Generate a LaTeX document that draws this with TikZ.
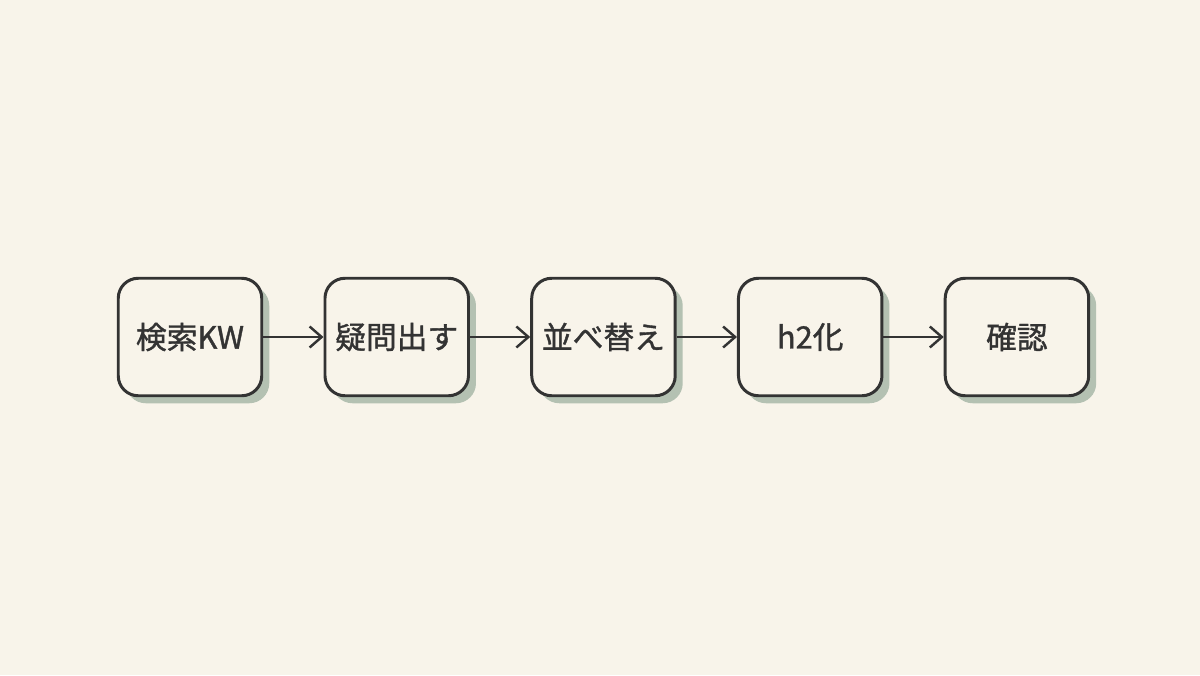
\documentclass[tikz,border=0pt]{standalone}
\usepackage{fontspec}
\setmainfont{Noto Sans CJK JP}[FakeBold=1.2]
\usepackage{tikz}
\usetikzlibrary{positioning, shadows, arrows.meta}

\definecolor{paper}{HTML}{F8F4EA}
\definecolor{ink}{HTML}{333333}
\definecolor{sage}{HTML}{B4C1B2}

\begin{document}
\begin{tikzpicture}[node distance=1.205cm]
        \tikzstyle{stepbox} = [rectangle, rounded corners=0.4cm, minimum width=2.87cm, minimum height=2.35cm, text centered, draw=ink, line width=1.7pt, fill=paper, text=ink, font=\fontsize{17.5}{21}\selectfont, drop shadow={shadow xshift=0.15cm, shadow yshift=-0.15cm, fill=sage, opacity=1}]
        \tikzstyle{arrow} = [draw=ink, line width=1.4pt, -{Straight Barb[length=0.24cm, width=0.42cm]}]

        % Background
        \fill[paper] (0,0) rectangle (24,13.5);
        \useasboundingbox (0,0) rectangle (24,13.5);

        % Nodes
        \node (kw) [stepbox] at (3.8,6.76) {検索KW};
        \node (question) [stepbox, right=of kw] {疑問出す};
        \node (sort) [stepbox, right=of question] {並べ替え};
        \node (heading) [stepbox, right=of sort] {h2化};
        \node (check) [stepbox, right=of heading] {確認};

        % Arrows
        \draw [arrow] (kw) -- (question);
        \draw [arrow] (question) -- (sort);
        \draw [arrow] (sort) -- (heading);
        \draw [arrow] (heading) -- (check);
\end{tikzpicture}
\end{document}
